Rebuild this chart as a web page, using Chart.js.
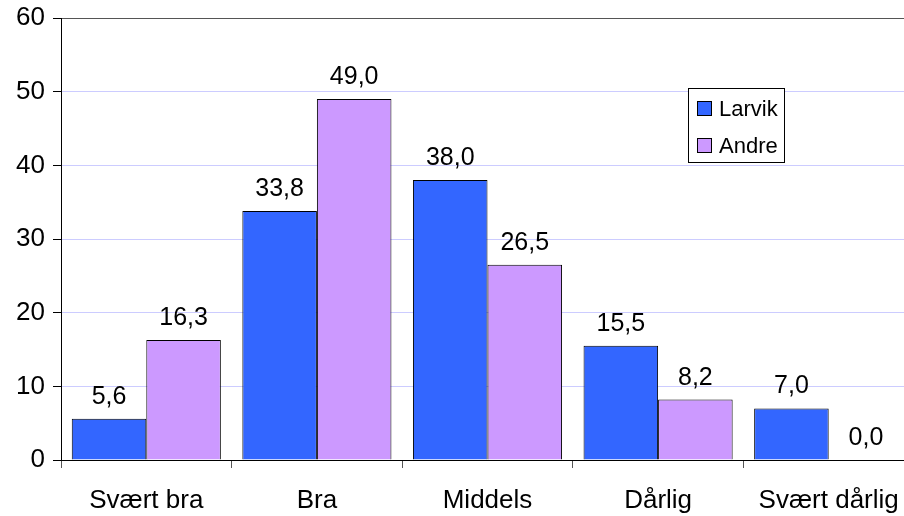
<!DOCTYPE html>
<html>
<head>
<meta charset="utf-8">
<script src="https://cdn.jsdelivr.net/npm/chart.js@4/dist/chart.umd.min.js"></script>
<style>
  html, body { margin: 0; padding: 0; background: #fff; overflow: hidden; }
  #wrap { width: 904px; height: 516px; overflow: hidden; }
  canvas { display: block; }
</style>
</head>
<body>
<div id="wrap"><canvas id="c" width="914" height="516"></canvas></div>
<script>
// vurdering — Larvik mot andre
const categories = ['Svært bra', 'Bra', 'Middels', 'Dårlig', 'Svært dårlig'];
const larvik = [5.6, 33.8, 38.0, 15.5, 7.0];
const andre = [16.3, 49.0, 26.5, 8.2, 0.0];
const yTicks = [0, 10, 20, 30, 40, 50, 60];

const FONT = "'Liberation Sans', Arial, sans-serif";
Chart.defaults.font.family = FONT;
Chart.defaults.color = '#000';

const fmt = (v) => v.toFixed(1).replace('.', ',');

// verdier over hver stolpe
const valueLabels = {
  id: 'valueLabels',
  afterDatasetsDraw(chart) {
    const { ctx } = chart;
    ctx.save();
    ctx.font = `25px ${FONT}`;
    ctx.fillStyle = '#000';
    ctx.textAlign = 'center';
    ctx.textBaseline = 'alphabetic';
    chart.data.datasets.forEach((ds, i) => {
      chart.getDatasetMeta(i).data.forEach((bar, j) => {
        ctx.fillText(fmt(ds.data[j]), bar.x, bar.y - 15);
      });
    });
    ctx.restore();
  },
};

// forklaring i boks inne i plottet
const boxLegend = {
  id: 'boxLegend',
  afterDraw(chart) {
    const { ctx } = chart;
    const x = 688.5, y = 88.5, w = 96, h = 74;
    ctx.save();
    ctx.fillStyle = '#fff';
    ctx.fillRect(x, y, w, h);
    ctx.strokeStyle = '#000';
    ctx.lineWidth = 1;
    ctx.strokeRect(x, y, w, h);
    ctx.font = `22px ${FONT}`;
    ctx.textBaseline = 'middle';
    ctx.textAlign = 'left';
    chart.data.datasets.forEach((ds, i) => {
      const cy = 109 + i * 37;
      ctx.fillStyle = ds.backgroundColor;
      ctx.fillRect(697.5, cy - 7.5, 14, 14);
      ctx.strokeRect(697.5, cy - 7.5, 14, 14);
      ctx.fillStyle = '#000';
      ctx.fillText(ds.label, 719, cy + 1);
    });
    ctx.restore();
  },
};

new Chart(document.getElementById('c'), {
  type: 'bar',
  data: {
    labels: categories,
    datasets: [
      { label: 'Larvik', data: larvik, backgroundColor: '#3366ff' },
      { label: 'Andre', data: andre, backgroundColor: '#cc99ff' },
    ].map((d) => ({ ...d, borderColor: '#000', borderWidth: 1, categoryPercentage: 0.874, barPercentage: 1 })),
  },
  options: {
    responsive: false,
    animation: false,
    devicePixelRatio: 1,
    layout: { padding: { top: 18, right: 0, left: 0, bottom: 0 } },
    plugins: { legend: { display: false }, tooltip: { enabled: false } },
    scales: {
      x: {
        offset: true,
        grid: { offset: true, drawOnChartArea: false, tickLength: 8, tickColor: '#555' },
        border: { color: '#000', width: 1 },
        ticks: { padding: 17, maxRotation: 0, font: { size: 26 } },
        afterFit(s) { s.height = 56; s.paddingLeft = 0; s.paddingRight = 0; },
      },
      y: {
        min: 0,
        max: 60,
        afterBuildTicks(s) { s.ticks = yTicks.map((v) => ({ value: v })); },
        grid: {
          color: (c) => (c.tick && c.tick.value === 60 ? '#555' : '#ccccff'),
          tickColor: '#000',
          tickLength: 8,
        },
        border: { color: '#000', width: 1 },
        ticks: { padding: 8, font: { size: 26 } },
        afterFit(s) { s.width = 61; s.paddingTop = 0; s.paddingBottom = 0; },
      },
    },
  },
  plugins: [valueLabels, boxLegend],
});
</script>
</body>
</html>
